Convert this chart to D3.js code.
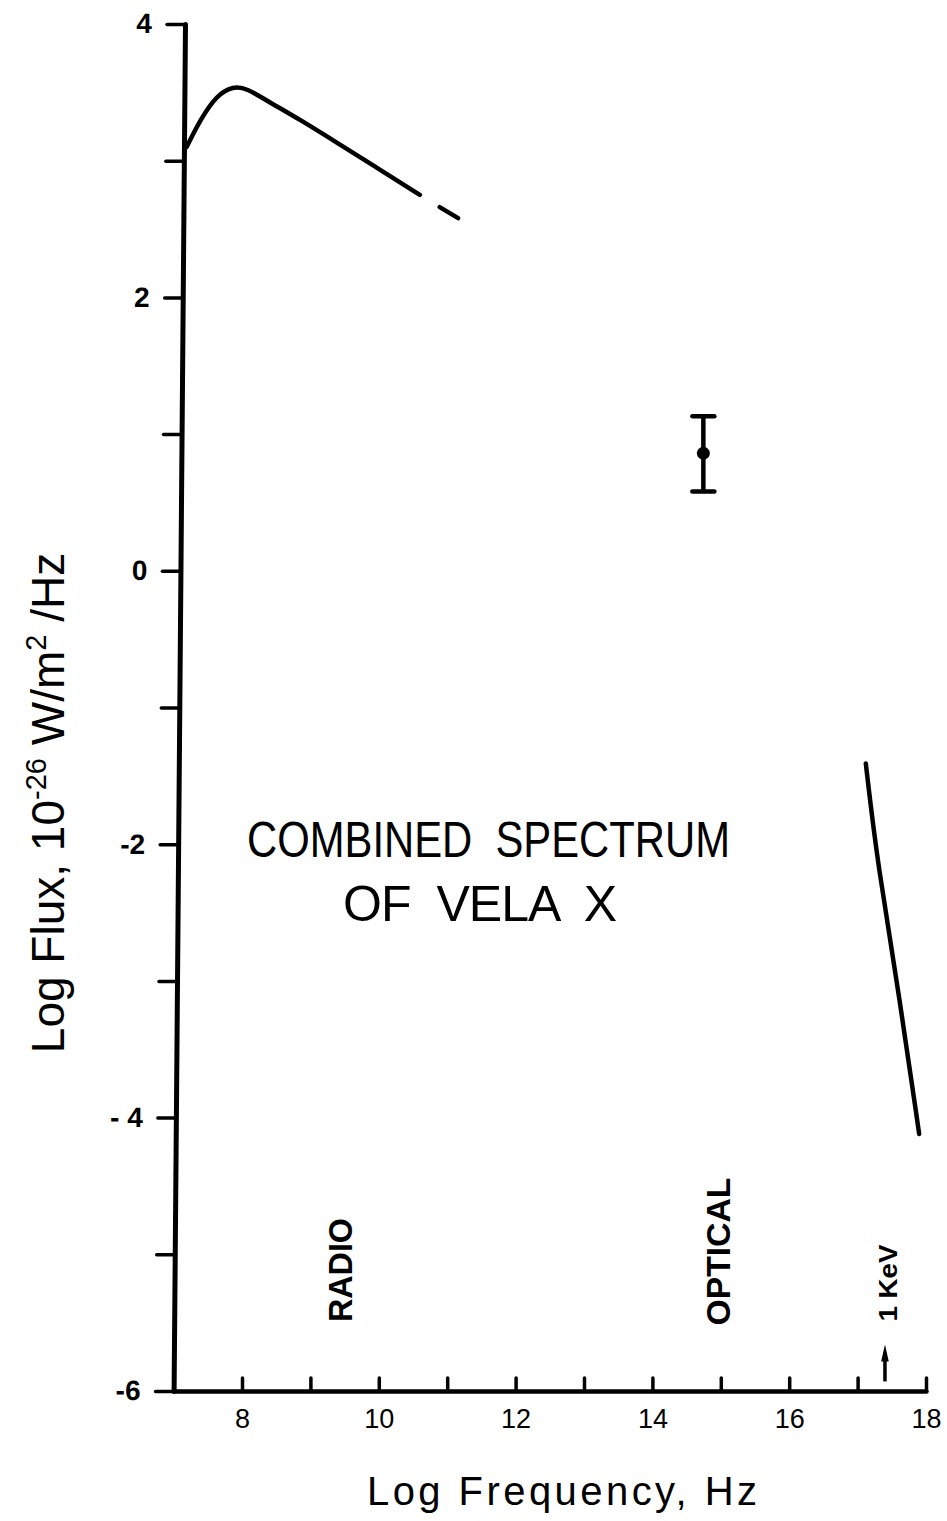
<!DOCTYPE html>
<html>
<head>
<meta charset="utf-8">
<script src="https://cdn.jsdelivr.net/npm/d3@7"></script>
<style>
  body { margin: 0; background: #fff; }
  svg { display: block; }
  text { font-family: "Liberation Sans", Arial, sans-serif; fill: #000; }
</style>
</head>
<body>
<svg id="chart" width="947" height="1521"></svg>
<script>
// radio spectrum, log frequency (Hz) vs log flux (1e-26 W/m^2/Hz)
const radioFreq = [7.19, 7.39, 7.63, 7.87, 8.07, 8.36, 8.85, 9.33, 9.97, 10.60];
const radioFlux = [3.10, 3.30, 3.48, 3.545, 3.53, 3.44, 3.30, 3.15, 2.95, 2.75];
// dashed extrapolation of the radio power law
const extrapFreq = [10.89, 11.16];
const extrapFlux = [2.66, 2.58];

// optical point with error bar
const opticalFreq = 14.745;
const opticalFlux = 0.86;
const opticalLow = 0.58;
const opticalHigh = 1.13;

// x-ray spectrum
const xrayFreq = [17.12, 17.29, 17.62, 17.90];
const xrayFlux = [-1.41, -2.14, -3.14, -4.12];

// 1 keV marker arrow (tail, tip)
const kevFreq = 17.40;
const kevArrow = [-5.93, -5.66];

// axes
const xTicks = [8, 9, 10, 11, 12, 13, 14, 15, 16, 17, 18];
const xLabelValues = [8, 10, 12, 14, 16, 18];
const yTicks = [-6, -5, -4, -3, -2, -1, 0, 1, 2, 3, 4];
const yLabelValues = [-6, -4, -2, 0, 2, 4];
const yLabelText = ["-6", "- 4", "-2", "0", "2", "4"];

// band labels: text, log freq, log flux
const bandNames = ["RADIO", "OPTICAL", "1 KeV"];
const bandFreq = [9.43, 14.95, 17.44];
const bandFlux = [-5.115, -4.98, -5.21];

const svg = d3.select("#chart");

const x = d3.scaleLinear().domain([7, 18]).range([173.6, 926]);
const y = d3.scaleLinear().domain([-6, 4]).range([1391, 24]);

// the hand drawn y axis leans a little to the right towards the top
const lean = Math.atan(11.4 / (y(-6) - y(4))) * 180 / Math.PI;

const yAxis = svg.append("g")
  .attr("transform", `translate(${x(7)},${y(-6)}) skewX(${-lean}) translate(0,${-y(-6)})`)
  .call(d3.axisLeft(y)
    .tickValues(yTicks)
    .tickSize(18)
    .tickSizeOuter(0)
    .tickPadding(15)
    .tickFormat(d => {
      const i = yLabelValues.indexOf(d);
      return i < 0 ? "" : yLabelText[i];
    }));

yAxis.select(".domain").attr("stroke-width", 5);
yAxis.selectAll(".tick line").attr("stroke-width", 3.5);
yAxis.selectAll(".tick text")
  .attr("font-size", 28)
  .attr("font-weight", "bold")
  .attr("font-family", "DejaVu Sans, sans-serif");

const xAxis = svg.append("g")
  .attr("transform", `translate(0,${y(-6)})`)
  .call(d3.axisBottom(x)
    .tickValues(xTicks)
    .tickSize(-13)
    .tickSizeOuter(0)
    .tickPadding(18)
    .tickFormat(d => xLabelValues.includes(d) ? d : ""));

xAxis.select(".domain").attr("stroke-width", 4.5);
xAxis.selectAll(".tick line").attr("stroke-width", 3.5);
xAxis.selectAll(".tick text")
  .attr("font-size", 27)
  .attr("font-family", "DejaVu Sans, sans-serif");

svg.selectAll(".domain, .tick line").attr("stroke-linecap", "round");

// spectra
const line = d3.line()
  .x(d => x(d[0]))
  .y(d => y(d[1]))
  .curve(d3.curveBasis);

svg.append("path")
  .datum(d3.zip(radioFreq, radioFlux))
  .attr("d", line)
  .attr("fill", "none")
  .attr("stroke", "#000")
  .attr("stroke-width", 4.5)
  .attr("stroke-linecap", "round")
  .attr("stroke-linejoin", "round");

svg.append("path")
  .datum(d3.zip(extrapFreq, extrapFlux))
  .attr("d", line)
  .attr("fill", "none")
  .attr("stroke", "#000")
  .attr("stroke-width", 4.5)
  .attr("stroke-linecap", "round");

// optical point
const ox = x(opticalFreq);
const capHalf = 11;
const optical = svg.append("g").attr("stroke", "#000").attr("stroke-width", 4.5);
optical.append("line")
  .attr("x1", ox).attr("x2", ox)
  .attr("y1", y(opticalLow)).attr("y2", y(opticalHigh));
optical.selectAll("line.cap")
  .data([opticalLow, opticalHigh])
  .enter()
  .append("line")
  .attr("class", "cap")
  .attr("x1", ox - capHalf).attr("x2", ox + capHalf)
  .attr("y1", d => y(d)).attr("y2", d => y(d))
  .attr("stroke-linecap", "round");
svg.append("circle")
  .attr("cx", ox)
  .attr("cy", y(opticalFlux))
  .attr("r", 6.5)
  .attr("fill", "#000");

// x-ray spectrum
svg.append("path")
  .datum(d3.zip(xrayFreq, xrayFlux))
  .attr("d", line)
  .attr("fill", "none")
  .attr("stroke", "#000")
  .attr("stroke-width", 4.5)
  .attr("stroke-linecap", "round");

// 1 keV arrow
const kx = x(kevFreq);
const tipY = y(kevArrow[1]);
svg.append("line")
  .attr("x1", kx).attr("x2", kx)
  .attr("y1", y(kevArrow[0])).attr("y2", tipY + 8)
  .attr("stroke", "#000")
  .attr("stroke-width", 3.5);
svg.append("path")
  .attr("d", `M${kx},${tipY}L${kx - 3.8},${tipY + 17}L${kx + 3.8},${tipY + 17}Z`)
  .attr("fill", "#000");

// band labels, written bottom to top
const bandSize = [33, 34, 25];
const bandLength = [104, 148, 77];
svg.selectAll("text.band")
  .data(bandNames)
  .enter()
  .append("text")
  .attr("class", "band")
  .attr("transform", (d, i) => `translate(${x(bandFreq[i])},${y(bandFlux[i])}) rotate(-90)`)
  .attr("text-anchor", "middle")
  .attr("dy", "0.36em")
  .attr("font-size", (d, i) => bandSize[i])
  .attr("font-weight", "bold")
  .attr("textLength", (d, i) => bandLength[i])
  .attr("lengthAdjust", "spacingAndGlyphs")
  .text(d => d);

// title inside the plot
svg.append("text")
  .attr("x", 247).attr("y", 857)
  .attr("font-size", 50)
  .attr("textLength", 483)
  .attr("lengthAdjust", "spacingAndGlyphs")
  .attr("xml:space", "preserve")
  .text("COMBINED  SPECTRUM");
svg.append("text")
  .attr("x", 343).attr("y", 921)
  .attr("font-size", 50)
  .attr("textLength", 274)
  .attr("lengthAdjust", "spacing")
  .attr("xml:space", "preserve")
  .text("OF  VELA  X");

// axis titles
svg.append("text")
  .attr("x", 367).attr("y", 1505)
  .attr("font-size", 40)
  .attr("textLength", 390)
  .attr("lengthAdjust", "spacing")
  .text("Log Frequency, Hz");

const yTitle = svg.append("text")
  .attr("transform", "translate(64,803) rotate(-90)")
  .attr("text-anchor", "middle")
  .attr("font-size", 46);
yTitle.append("tspan").text("Log Flux, 10");
yTitle.append("tspan").attr("font-size", 29).attr("dy", -18).text("-26");
yTitle.append("tspan").attr("dy", 18).text(" W/m");
yTitle.append("tspan").attr("font-size", 29).attr("dy", -18).text("2");
yTitle.append("tspan").attr("dy", 18).text(" /Hz");
</script>
</body>
</html>
